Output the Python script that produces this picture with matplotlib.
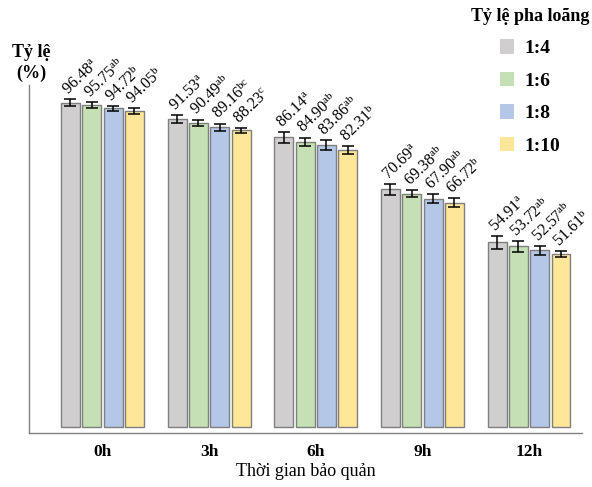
import matplotlib
matplotlib.use("Agg")
import matplotlib.pyplot as plt
from matplotlib.patches import Patch
import numpy as np

plt.rcParams['font.family'] = ['Liberation Serif', 'DejaVu Serif']
plt.rcParams['mathtext.fontset'] = 'custom'
plt.rcParams['mathtext.rm'] = 'Liberation Serif'
plt.rcParams['mathtext.it'] = 'Liberation Serif:italic'

times = ['0h', '3h', '6h', '9h', '12h']
ratios = ['1:4', '1:6', '1:8', '1:10']
values = {
    '1:4':  [96.48, 91.53, 86.14, 70.69, 54.91],
    '1:6':  [95.75, 90.49, 84.90, 69.38, 53.72],
    '1:8':  [94.72, 89.16, 83.86, 67.90, 52.57],
    '1:10': [94.05, 88.23, 82.31, 66.72, 51.61],
}
errors = {
    '1:4':  [1.0, 1.2, 1.7, 1.7, 1.9],
    '1:6':  [0.9, 0.95, 1.2, 1.1, 1.6],
    '1:8':  [0.8, 1.1, 1.45, 1.3, 1.35],
    '1:10': [0.9, 0.75, 1.25, 1.4, 0.9],
}
letters = {
    '1:4':  ['a', 'a', 'a', 'a', 'a'],
    '1:6':  ['ab', 'ab', 'ab', 'ab', 'ab'],
    '1:8':  ['b', 'bc', 'ab', 'ab', 'ab'],
    '1:10': ['b', 'c', 'b', 'b', 'b'],
}
colors = ['#D0CECE', '#C5E0B4', '#B4C7E7', '#FFE699']

fig = plt.figure(figsize=(5.92, 4.87), dpi=100)
ax = fig.add_axes([29/592, 54/487, 553/592, 348/487])

x = np.arange(len(times))
pitch = 0.2
width = 0.178
for i, r in enumerate(ratios):
    xs = x + (i - 1.5) * pitch
    ax.bar(xs, values[r], width=width, color=colors[i], edgecolor='#7F7F7F',
           linewidth=1.0, zorder=2)
    ax.errorbar(xs, values[r], yerr=errors[r], fmt='none', ecolor='black',
                elinewidth=1.1, capsize=4, capthick=1.1, zorder=3)
    for xi, v, e, l in zip(xs, values[r], errors[r], letters[r]):
        ax.annotate(f"{v:.2f}$^{{\\mathrm{{{l}}}}}$", xy=(xi, v + e),
                    xytext=(-1, 2.5), textcoords='offset points',
                    rotation=44, rotation_mode='anchor', ha='left',
                    va='baseline', fontsize=11.5, color='black')

ax.set_xlim(-0.689, 4.497)
ax.set_ylim(-1.7, 101.7)
ax.set_xticks(x)
ax.set_xticklabels(times, fontsize=12.5, fontweight='bold')
ax.tick_params(axis='x', length=0, pad=8)
ax.set_yticks([])
for s in ['top', 'right']:
    ax.spines[s].set_visible(False)
for s in ['left', 'bottom']:
    ax.spines[s].set_color('#808080')
    ax.spines[s].set_linewidth(1.0)

ax.set_xlabel('Thời gian bảo quản', fontsize=13, labelpad=2)
fig.text(31/592, 1 - 63/487, 'Tỷ lệ\n(%)', ha='center', va='center',
         fontsize=13, fontweight='bold', linespacing=1.25)

handles = [Patch(facecolor=c, edgecolor='none') for c in colors]
leg = fig.legend(handles, ratios, title='Tỷ lệ pha loãng', loc='upper right',
                 bbox_to_anchor=(1.008, 1.0), frameon=False, handlelength=0.75,
                 handleheight=0.75, labelspacing=0.75, handletextpad=0.5,
                 borderaxespad=0.0, borderpad=0.4,
                 prop={'weight': 'bold', 'size': 14},
                 title_fontproperties={'weight': 'bold', 'size': 13})

fig.savefig('out.png', dpi=100)
